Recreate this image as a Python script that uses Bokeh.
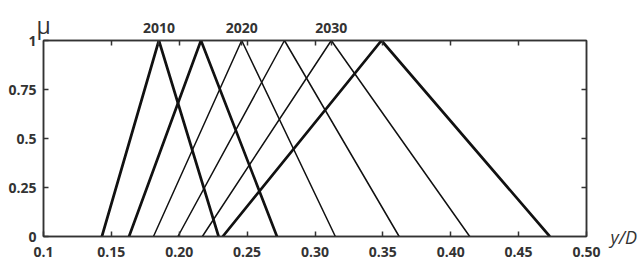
from bokeh.plotting import figure
from bokeh.models import Range1d, LinearAxis, FixedTicker, ColumnDataSource
from bokeh.embed import file_html
from bokeh.resources import INLINE

# --- data ---
years = ["2010", "2015", "2020", "2025", "2030", "2035"]
left_feet = [0.143, 0.163, 0.181, 0.199, 0.217, 0.232]
peaks = [0.185, 0.216, 0.246, 0.2775, 0.312, 0.349]
right_feet = [0.229, 0.272, 0.315, 0.362, 0.414, 0.473]
mu_shape = [0, 1, 0]
labelled_years = ["2010", "2020", "2030"]
x_ticks = [0.1, 0.15, 0.2, 0.25, 0.3, 0.35, 0.4, 0.45, 0.5]
x_tick_labels = ["0.1", "0.15", "0.20", "0.25", "0.30", "0.35", "0.40", "0.45", "0.50"]
y_ticks = [0, 0.25, 0.5, 0.75, 1]
y_tick_labels = ["0", "0.25", "0.5", "0.75", "1"]
thick = [True, True, False, False, False, True]
y_label = "μ"
x_label = "y/D"

FONT = "Open Sans"
TXT = "#333333"
AX = "#333333"

p = figure(width=641, height=262, output_backend="svg", toolbar_location=None,
           x_range=Range1d(0.1, 0.5), y_range=Range1d(0, 1),
           x_axis_location=None, y_axis_location=None,
           min_border_left=43, min_border_right=55, min_border_top=40, min_border_bottom=26)
p.grid.visible = False
p.outline_line_color = AX
p.outline_line_width = 1.5
p.background_fill_color = "white"
p.border_fill_color = "white"

xs = [[l, pk, r] for l, pk, r in zip(left_feet, peaks, right_feet)]
ys = [list(mu_shape) for _ in xs]
widths = [2.7 if t else 1.5 for t in thick]
src = ColumnDataSource(dict(xs=xs, ys=ys, w=widths))
p.multi_line("xs", "ys", source=src, line_color="#111111", line_width="w")

def style_axis(ax, ticks, labels, size="14px"):
    ax.ticker = FixedTicker(ticks=ticks)
    ax.major_label_overrides = {t: s for t, s in zip(ticks, labels)}
    ax.major_tick_in = 5
    ax.major_tick_out = 0
    ax.minor_tick_in = 0
    ax.minor_tick_out = 0
    ax.axis_line_color = AX
    ax.axis_line_width = 1.5
    ax.major_tick_line_color = AX
    ax.major_tick_line_width = 1.5
    ax.major_label_text_font = FONT
    ax.major_label_text_font_style = "bold"
    ax.major_label_text_color = TXT
    ax.major_label_text_font_size = size

bottom = LinearAxis()
style_axis(bottom, x_ticks, x_tick_labels)
bottom.major_label_standoff = 10
p.add_layout(bottom, "below")

leftax = LinearAxis()
style_axis(leftax, y_ticks, y_tick_labels)
leftax.major_label_standoff = 7
p.add_layout(leftax, "left")

# top axis: inward ticks plus year labels at the labelled peaks
top_ticks = sorted(x_ticks[1:-1] + [pk for yr, pk in zip(years, peaks) if yr in labelled_years])
top_labels = []
for t in top_ticks:
    lab = ""
    for yr, pk in zip(years, peaks):
        if yr in labelled_years and pk == t:
            lab = yr
    top_labels.append(lab)
top = LinearAxis()
style_axis(top, top_ticks, top_labels)
top.major_label_standoff = 8
top.axis_label = y_label
top.axis_label_text_font = FONT
top.axis_label_text_font_style = "normal"
top.axis_label_text_font_size = "23px"
top.axis_label_text_color = TXT
top.axis_label_standoff = -21
top.axis_label_align = "start"
p.add_layout(top, "above")

rightax = LinearAxis()
style_axis(rightax, y_ticks[1:-1], ["", "", ""])
rightax.major_label_standoff = 0
rightax.axis_label = x_label
rightax.axis_label_orientation = "horizontal"
rightax.axis_label_text_font = FONT
rightax.axis_label_text_font_style = "italic"
rightax.axis_label_text_font_size = "18px"
rightax.axis_label_text_color = TXT
rightax.axis_label_standoff = 24
rightax.axis_label_align = "start"
p.add_layout(rightax, "right")

open("out.html", "w").write(file_html(p, INLINE))
